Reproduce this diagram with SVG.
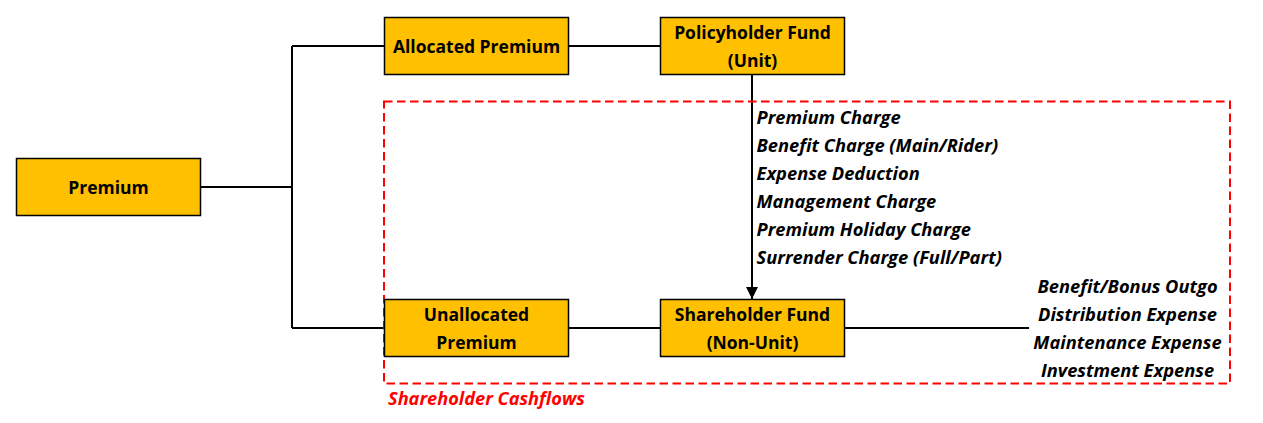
<svg xmlns="http://www.w3.org/2000/svg" width="1263" height="423" viewBox="0 0 1263 423">
<defs>
<style>
.box{fill:#FFC000;stroke:#000;stroke-width:1.5}
.bt{font-family:"Open Sans","Liberation Sans",sans-serif;font-weight:bold;font-size:17.5px;fill:#000;text-anchor:middle}
.it{font-family:"Open Sans","Liberation Sans",sans-serif;font-weight:bold;font-style:italic;font-size:18.3px;fill:#000}
.ln{fill:none;stroke:#000;stroke-width:2}
</style>
<marker id="arr" viewBox="0 0 12 12" markerWidth="12" markerHeight="12" refX="12" refY="6" orient="auto" markerUnits="userSpaceOnUse">
<path d="M0,0 L12,6 L0,12 Z" fill="#000"/>
</marker>
</defs>
<rect width="1263" height="423" fill="#fff"/>
<g id="connectors">
<path class="ln" d="M200.5,187 H292 M292,46 V328 M292,46 H384.5 M292,328 H384.5"/>
<path class="ln" d="M568.5,46 H660.5"/>
<path class="ln" d="M568.5,328 H660.5"/>
<path class="ln" d="M752,74.5 V299" marker-end="url(#arr)"/>
<path class="ln" d="M844.5,328 H1029"/>
</g>
<g id="shareholder-cashflows">
<rect x="384" y="101.5" width="846" height="282" fill="none" stroke="#FF0000" stroke-width="2" stroke-dasharray="8.5,4.5"/>
<text x="388" y="405" font-family="'Open Sans','Liberation Sans',sans-serif" font-weight="bold" font-style="italic" font-size="18.2px" fill="#FF0000">Shareholder Cashflows</text>
</g>
<g id="premium">
<rect class="box" x="16.5" y="158.5" width="184" height="57"/>
<text class="bt" x="108.5" y="193.5">Premium</text>
</g>
<g id="allocated-premium">
<rect class="box" x="384.5" y="17.5" width="184" height="57"/>
<text class="bt" x="476.5" y="52.5">Allocated Premium</text>
</g>
<g id="policyholder-fund">
<rect class="box" x="660.5" y="17.5" width="184" height="57"/>
<text class="bt" x="752.5" y="39">Policyholder Fund</text>
<text class="bt" x="752.5" y="66.5">(Unit)</text>
</g>
<g id="unallocated-premium">
<rect class="box" x="384.5" y="299.5" width="184" height="57"/>
<text class="bt" x="476.5" y="321">Unallocated</text>
<text class="bt" x="476.5" y="348.5">Premium</text>
</g>
<g id="shareholder-fund">
<rect class="box" x="660.5" y="299.5" width="184" height="57"/>
<text class="bt" x="752.5" y="321">Shareholder Fund</text>
<text class="bt" x="752.5" y="348.5">(Non-Unit)</text>
</g>
<g id="charges">
<text class="it" x="756.5" y="123.5">Premium Charge</text>
<text class="it" x="756.5" y="151.5">Benefit Charge (Main/Rider)</text>
<text class="it" x="756.5" y="179.5">Expense Deduction</text>
<text class="it" x="756.5" y="208">Management Charge</text>
<text class="it" x="756.5" y="236">Premium Holiday Charge</text>
<text class="it" x="756.5" y="264">Surrender Charge (Full/Part)</text>
</g>
<g id="outgo">
<text class="it" x="1127.5" y="292.5" text-anchor="middle">Benefit/Bonus Outgo</text>
<text class="it" x="1127.5" y="320.5" text-anchor="middle">Distribution Expense</text>
<text class="it" x="1127.5" y="348.5" text-anchor="middle">Maintenance Expense</text>
<text class="it" x="1127.5" y="376.5" text-anchor="middle">Investment Expense</text>
</g>
</svg>
